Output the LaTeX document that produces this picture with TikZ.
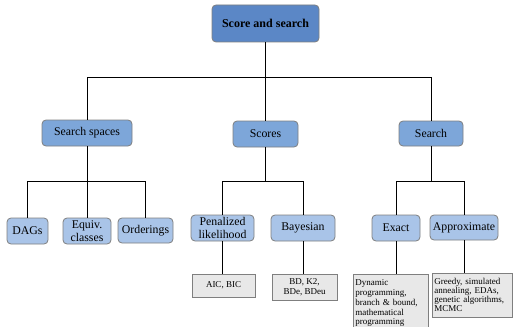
\documentclass[tikz,border=0pt]{standalone}
\usepackage{fontspec}
\setmainfont{Liberation Serif}
\definecolor{topblue}{HTML}{5B87C6}
\definecolor{midblue}{HTML}{7DA6D9}
\definecolor{lowblue}{HTML}{A9C4E8}
\definecolor{notegrey}{HTML}{E8E8E8}
\definecolor{rimgrey}{HTML}{7F7F7F}
\begin{document}
\begin{tikzpicture}[x=1pt,y=-1pt,
    rootbox/.style={draw=rimgrey,line width=0.8pt,fill=topblue,rounded corners=4pt,
      inner sep=1pt,align=center,font=\fontsize{12}{13}\selectfont\bfseries},
    groupbox/.style={draw=rimgrey,line width=0.8pt,fill=midblue,rounded corners=4pt,
      inner sep=1pt,align=center,font=\fontsize{11.8}{13}\selectfont},
    kindbox/.style={draw=rimgrey,line width=0.8pt,fill=lowblue,rounded corners=4pt,
      inner sep=1pt,align=center,font=\fontsize{11.8}{12.5}\selectfont},
    notebox/.style={draw=rimgrey,line width=0.6pt,fill=notegrey,
      inner sep=2pt,font=\fontsize{9}{10}\selectfont},
    wire/.style={line width=0.7pt,black}]
  \useasboundingbox (0,0) rectangle (513,326);

  % root
  \node[rootbox,minimum width=107pt,minimum height=37pt] (root) at (265.5,23.5) {Score and search};

  % second row
  \node[groupbox,minimum width=90pt,minimum height=26pt] (spaces) at (87,133) {Search spaces};
  \node[groupbox,minimum width=65pt,minimum height=26pt] (scores) at (265.5,134) {Scores};
  \node[groupbox,minimum width=64pt,minimum height=25pt] (search) at (431,133.5) {Search};

  % search spaces: DAGs, equiv. classes, orderings
  \node[kindbox,minimum width=41pt,minimum height=26pt] (dags) at (27.5,231) {DAGs};
  \node[kindbox,minimum width=48pt,minimum height=26pt] (equiv) at (87,231) {Equiv.\\classes};
  \node[kindbox,minimum width=55pt,minimum height=25pt] (orders) at (145.5,230.5) {Orderings};

  % scores: penalized, bayesian
  \node[kindbox,minimum width=63pt,minimum height=26pt] (penal) at (222.5,228) {Penalized\\likelihood};
  \node[kindbox,minimum width=64pt,minimum height=26pt] (bayes) at (303,228) {Bayesian};

  % search: exact, approximate
  \node[kindbox,minimum width=48pt,minimum height=26pt] (exact) at (396,228) {Exact};
  \node[kindbox,minimum width=68pt,minimum height=25pt] (approx) at (464,227.5) {Approximate};

  % notes under the leaves
  \node[notebox,align=center,minimum width=63pt,minimum height=23pt] (aic) at (223.5,285.5) {AIC, BIC};
  \node[notebox,align=center,minimum width=65pt,minimum height=26pt] (bd) at (304.5,287) {BD, K2,\\BDe, BDeu};
  \node[notebox,align=left,anchor=north west,text width=71pt,minimum height=58pt,
    font=\fontsize{9}{9.8}\selectfont] (dyn) at (353,274)
    {Dynamic\\programming,\\branch \& bound,\\mathematical\\programming};
  \node[notebox,align=left,anchor=north west,text width=76pt,minimum height=44pt,
    font=\fontsize{9}{9}\selectfont] (greedy) at (432,273)
    {Greedy, simulated\\annealing, EDAs,\\genetic algorithms,\\MCMC};

  % buses
  \coordinate (bus0) at (265.5,77);
  \coordinate (bus1) at (87,181.5);
  \coordinate (bus2) at (265.5,181.5);
  \coordinate (bus3) at (431,181.5);

  % root -- second row
  \draw[wire] (root) -- (bus0);
  \draw[wire] (bus0) -| (spaces.north);
  \draw[wire] (bus0) -- (scores.north);
  \draw[wire] (bus0) -| (search.north);

  % second row -- leaves
  \draw[wire] (spaces) -- (bus1);
  \draw[wire] (bus1) -| (dags.north);
  \draw[wire] (bus1) -- (equiv.north);
  \draw[wire] (bus1) -| (orders.north);
  \draw[wire] (scores) -- (bus2);
  \draw[wire] (bus2) -| (penal.north);
  \draw[wire] (bus2) -| (bayes.north);
  \draw[wire] (search) -- (bus3);
  \draw[wire] (bus3) -| (exact.north);
  \draw[wire] (bus3) -| (approx.north);

  % leaves -- notes
  \draw[wire] (penal) -- (penal |- aic.north);
  \draw[wire] (bayes) -- (bayes |- bd.north);
  \draw[wire] (exact) -- (exact |- dyn.north);
  \draw[wire] (approx) -- (approx |- greedy.north);
\end{tikzpicture}
\end{document}
